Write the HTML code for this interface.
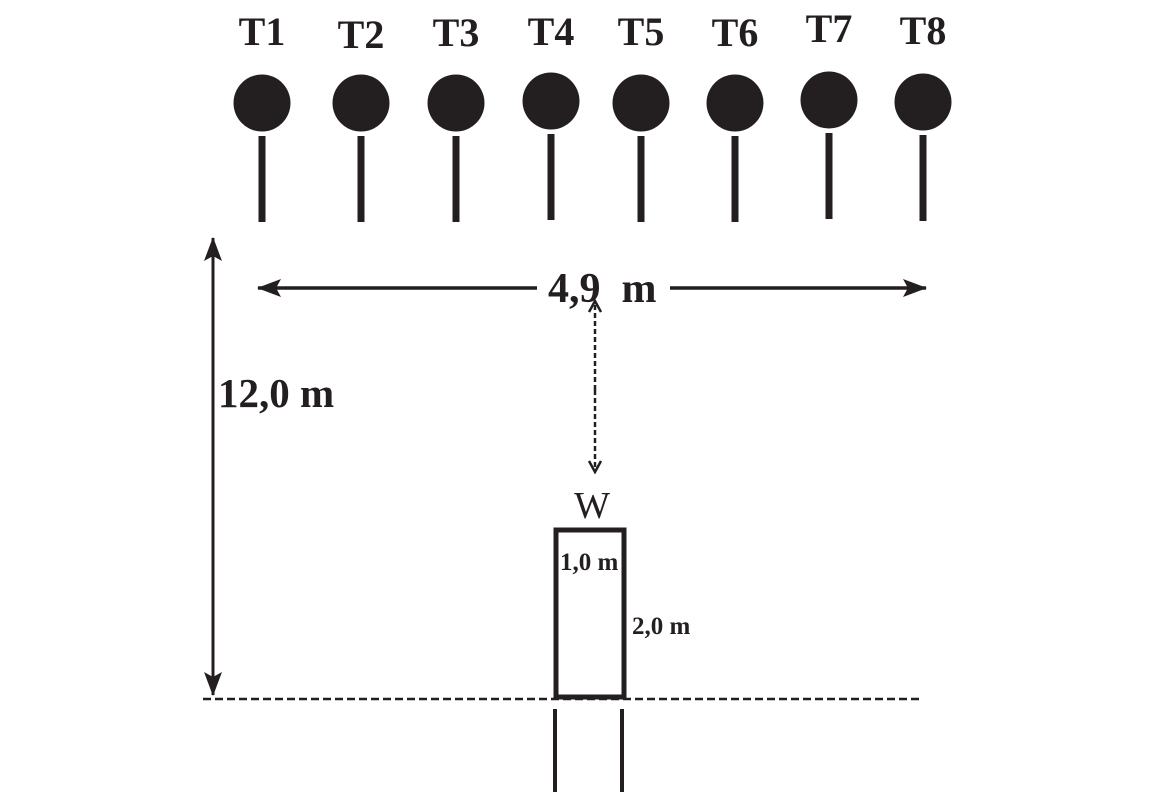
<!DOCTYPE html>
<html><head><meta charset="utf-8"><style>
html,body{margin:0;padding:0;background:#fff;}
svg{display:block;}
text{font-family:"Liberation Serif",serif;fill:#231f20;}
</style></head><body>
<svg width="1165" height="795" viewBox="0 0 1165 795">
<defs>
<marker id="ah2" markerWidth="24" markerHeight="18" refX="23" refY="9" orient="auto" markerUnits="userSpaceOnUse"><path d="M0,0 L24,9 L0,18 L5,9 Z" fill="#231f20"/></marker>
<marker id="oh" markerWidth="14" markerHeight="14" refX="12" refY="7" orient="auto" markerUnits="userSpaceOnUse"><path d="M1,1 L12,7 L1,13" fill="none" stroke="#231f20" stroke-width="2.5"/></marker>
</defs>
<g id="targets"></g>
<line x1="213" y1="470" x2="213" y2="238" stroke="#231f20" stroke-width="3" marker-end="url(#ah2)"/>
<line x1="213" y1="460" x2="213" y2="695" stroke="#231f20" stroke-width="3" marker-end="url(#ah2)"/>
<text x="218" y="407" font-size="41" font-weight="bold">12,0 m</text>
<line x1="537" y1="288" x2="258" y2="288" stroke="#231f20" stroke-width="3.5" marker-end="url(#ah2)"/>
<line x1="670" y1="288" x2="926" y2="288" stroke="#231f20" stroke-width="3.5" marker-end="url(#ah2)"/>
<text x="548" y="302" font-size="42" font-weight="bold" xml:space="preserve">4,9  m</text>
<line x1="595" y1="390" x2="595" y2="301" stroke="#231f20" stroke-width="2.5" stroke-dasharray="5,3" marker-end="url(#oh)"/>
<line x1="595" y1="390" x2="595" y2="472" stroke="#231f20" stroke-width="2.5" stroke-dasharray="5,3" marker-end="url(#oh)"/>
<text x="592" y="518" font-size="38" text-anchor="middle">W</text>
<rect x="556" y="530" width="68" height="167" fill="none" stroke="#231f20" stroke-width="5"/>
<text x="560" y="570" font-size="25" font-weight="bold">1,0 m</text>
<text x="632" y="634" font-size="25" font-weight="bold">2,0 m</text>
<line x1="203" y1="699" x2="920" y2="699" stroke="#231f20" stroke-width="2.5" stroke-dasharray="8,4"/>
<line x1="555" y1="709" x2="555" y2="792" stroke="#231f20" stroke-width="4"/>
<line x1="622" y1="709" x2="622" y2="792" stroke="#231f20" stroke-width="4"/>
</svg>
<script>
const targetLabels=["T1","T2","T3","T4","T5","T6","T7","T8"];
const targetX=[262,361,456,551,641,735,829,923];
const targetY=[103,103,103,101,103,103,100,102];
const labelY=[45,48,46,45,45,46,42,44];
const g=document.getElementById('targets');
const NS='http://www.w3.org/2000/svg';
targetLabels.forEach((lab,i)=>{
  const x=targetX[i],y=targetY[i];
  const t=document.createElementNS(NS,'text');
  t.setAttribute('x',x);t.setAttribute('y',labelY[i]);
  t.setAttribute('font-size','40');t.setAttribute('font-weight','bold');t.setAttribute('text-anchor','middle');
  t.textContent=lab;
  
  
  g.appendChild(t);
  const c=document.createElementNS(NS,'circle');
  c.setAttribute('cx',x);c.setAttribute('cy',y);c.setAttribute('r','28.5');c.setAttribute('fill','#231f20');
  
  
  g.appendChild(c);
  const l=document.createElementNS(NS,'line');
  l.setAttribute('x1',x);l.setAttribute('x2',x);l.setAttribute('y1',y+33);l.setAttribute('y2',y+119);
  l.setAttribute('stroke','#231f20');l.setAttribute('stroke-width','7');
  
  
  g.appendChild(l);
});
</script>
</body></html>
